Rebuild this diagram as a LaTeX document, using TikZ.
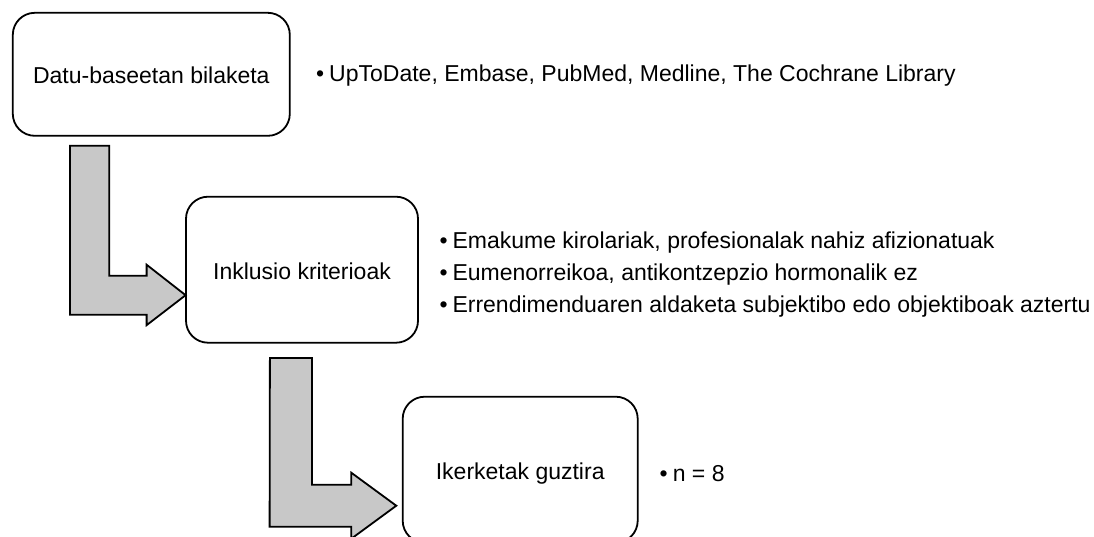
\documentclass[tikz,border=0pt]{standalone}
\usepackage{fontspec}
\setmainfont{Liberation Sans}
\usetikzlibrary{calc}
\definecolor{arrowgray}{RGB}{200,200,200}
\tikzset{
  stepbox/.style={draw=black, line width=1.8pt, rounded corners=22pt, fill=white,
    inner sep=0pt, text height=19pt, text depth=0pt,
    font=\fontsize{23}{31.9}\selectfont},
  bentarrow/.style={draw=black, line width=1.8pt, fill=arrowgray, line join=miter},
  itemtext/.style={anchor=base west, inner sep=0pt, font=\fontsize{23}{31.9}\selectfont}
}
\newcommand{\bul}{\textbullet\hspace{5pt}}
\begin{document}
\begin{tikzpicture}[x=1pt,y=-1pt]
\useasboundingbox (0,0) rectangle (1094,536);
\clip (0,0) rectangle (1094,536);

% boxes
\node[stepbox, minimum width=277pt, minimum height=123pt] (b1) at (151.3,74.3) {Datu-baseetan bilaketa};
\node[stepbox, minimum width=232pt, minimum height=146pt] (b2) at (302,269.7) {Inklusio kriterioak};
\node[stepbox, minimum width=235pt, minimum height=146pt] (b3) at (520.2,469.7) {Ikerketak guztira};

% bent arrows
\coordinate (s1) at ($(b1.south west)+(58,9)$);
\coordinate (tip1) at ($(b2.west)+(0.5,25.5)$);
\draw[bentarrow] (s1) -- ++(39.3,0) |- ($(tip1)+(-39,-19.5)$) -- ++(0,-11) -- (tip1)
  -- ++(-39,30) -- ++(0,-10.5) -- ++(-76.5,0) -- cycle;

\coordinate (s2) at ($(b2.south west)+(84.8,14.3)$);
\coordinate (tip2) at ($(b3.west)+(-5.5,36)$);
\draw[bentarrow] (s2) -- ++(42,0) |- ($(tip2)+(-45,-21)$) -- ++(0,-12) -- (tip2)
  -- ++(-45,33) -- ++(0,-12) -- ++(-81.7,0) -- cycle;

% texts
\node[itemtext] (t1) at (316,81.7) {\bul UpToDate, Embase, PubMed, Medline, The Cochrane Library};
\node[itemtext] (t2) at (439.3,248.5) {\bul Emakume kirolariak, profesionalak nahiz afizionatuak};
\node[itemtext] (t3) at (439.3,280.2) {\bul Eumenorreikoa, antikontzepzio hormonalik ez};
\node[itemtext] (t4) at (439.3,312.2) {\bul Errendimenduaren aldaketa subjektibo edo objektiboak aztertu};
\node[itemtext] (t5) at (659.5,481.7) {\bul n = 8};
\end{tikzpicture}
\end{document}
